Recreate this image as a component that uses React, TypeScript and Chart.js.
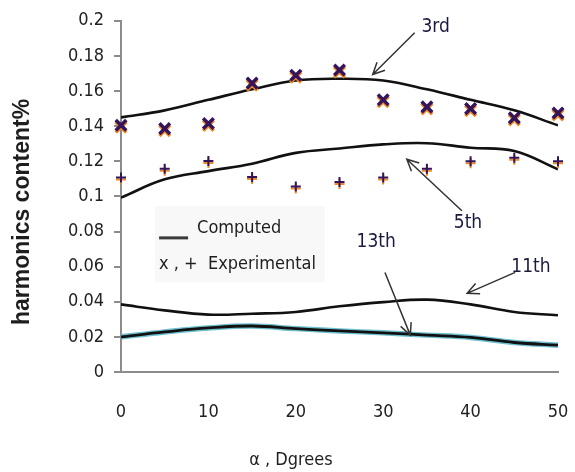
import React, { useEffect, useRef } from 'react';
import { Chart, registerables } from 'chart.js';

Chart.register(...registerables);

const angles = [0, 5, 10, 15, 20, 25, 30, 35, 40, 45, 50];
const computed3rd = [0.145, 0.149, 0.155, 0.161, 0.166, 0.167, 0.166, 0.161, 0.155, 0.149, 0.1405];
const experimental3rd = [0.1405, 0.1386, 0.1415, 0.1645, 0.169, 0.172, 0.155, 0.151, 0.15, 0.1447, 0.1475];
const computed5th = [0.0993, 0.1097, 0.1144, 0.1186, 0.1248, 0.1273, 0.1296, 0.1303, 0.1277, 0.1258, 0.1154];
const experimental5th = [0.1107, 0.1158, 0.1201, 0.111, 0.1056, 0.1082, 0.1107, 0.1158, 0.12, 0.122, 0.12];
const computed11th = [0.0385, 0.0351, 0.0327, 0.0332, 0.0342, 0.0374, 0.0398, 0.0412, 0.0385, 0.0342, 0.0323];
const computed13th = [0.02, 0.0228, 0.0251, 0.0262, 0.0247, 0.0234, 0.0223, 0.021, 0.0197, 0.0168, 0.0153];

const xTickLabels = ['0', '10', '20', '30', '40', '50'];
const yTickLabels = ['0', '0.02', '0.04', '0.06', '0.08', '0.1', '0.12', '0.14', '0.16', '0.18', '0.2'];

const xTitle = 'α , Dgrees';
const yTitle = 'harmonics content%';
const legendLines = ['Computed', 'x , +  Experimental'];

// annotations in data units: label, text position, arrow start, arrow end
const annotations = [
  { text: '3rd', tx: 36.0, ty: 0.1966, x1: 33.6, y1: 0.1932, x2: 28.8, y2: 0.1694 },
  { text: '5th', tx: 39.7, ty: 0.085, x1: 39.0, y1: 0.0918, x2: 32.7, y2: 0.1212 },
  { text: '13th', tx: 29.2, ty: 0.0742, x1: 30.2, y1: 0.0567, x2: 33.1, y2: 0.021 },
  { text: '11th', tx: 46.9, ty: 0.06, x1: 45.1, y1: 0.0567, x2: 39.6, y2: 0.0448 },
];

const FONT = "'DejaVu Sans Condensed', 'DejaVu Sans', sans-serif";
const AXIS_GRAY = '#8c8c8c';
const PURPLE = '#34145a';
const ORANGE = '#f08a24';

const toXY = (xs: number[], ys: number[]) => xs.map((x, i) => ({ x, y: ys[i] }));

const decorPlugin = {
  id: 'decor',
  beforeDatasetDraw(chart: any, args: any) {
    const ds = chart.data.datasets[args.index];
    if (!ds.shadow) return;
    const ctx = chart.ctx;
    ctx.save();
    ctx.strokeStyle = ORANGE;
    ctx.lineWidth = ds.borderWidth;
    ctx.lineCap = 'butt';
    const off = 2;
    args.meta.data.forEach((pt: any) => {
      const { x, y } = pt;
      ctx.beginPath();
      if (ds.pointStyle === 'crossRot') {
        const r = ds.pointRadius * Math.SQRT1_2;
        ctx.moveTo(x - r, y - r + off);
        ctx.lineTo(x + r, y + r + off);
        ctx.moveTo(x + r, y - r + off);
        ctx.lineTo(x - r, y + r + off);
      } else {
        const r = ds.pointRadius;
        ctx.moveTo(x - r, y + off);
        ctx.lineTo(x + r, y + off);
        ctx.moveTo(x, y - r + off);
        ctx.lineTo(x, y + r + off);
      }
      ctx.stroke();
    });
    ctx.restore();
  },
  afterDatasetsDraw(chart: any) {
    const ctx = chart.ctx;
    const xs = chart.scales.x;
    const ys = chart.scales.y;
    ctx.save();

    // legend box
    const lx1 = xs.getPixelForValue(3.9);
    const lx2 = xs.getPixelForValue(23.3);
    const ly1 = ys.getPixelForValue(0.0946);
    const ly2 = ys.getPixelForValue(0.051);
    ctx.fillStyle = '#f8f8f8';
    ctx.fillRect(lx1, ly1, lx2 - lx1, ly2 - ly1);
    ctx.strokeStyle = '#3a3a3a';
    ctx.lineWidth = 3;
    ctx.beginPath();
    ctx.moveTo(lx1 + 4, ly1 + 32);
    ctx.lineTo(lx1 + 33, ly1 + 32);
    ctx.stroke();
    ctx.fillStyle = '#1e1e1e';
    ctx.font = `18px ${FONT}`;
    ctx.textBaseline = 'middle';
    ctx.textAlign = 'left';
    ctx.fillText(legendLines[0], lx1 + 42, ly1 + 22);
    ctx.fillText(legendLines[1], lx1 + 4, ly1 + 58);

    // annotations
    ctx.strokeStyle = '#333333';
    ctx.lineWidth = 1.5;
    annotations.forEach((a) => {
      const x1 = xs.getPixelForValue(a.x1);
      const y1 = ys.getPixelForValue(a.y1);
      const x2 = xs.getPixelForValue(a.x2);
      const y2 = ys.getPixelForValue(a.y2);
      ctx.beginPath();
      ctx.moveTo(x1, y1);
      ctx.lineTo(x2, y2);
      const ang = Math.atan2(y2 - y1, x2 - x1);
      const hl = 13;
      const spread = 0.45;
      ctx.moveTo(x2 - hl * Math.cos(ang - spread), y2 - hl * Math.sin(ang - spread));
      ctx.lineTo(x2, y2);
      ctx.lineTo(x2 - hl * Math.cos(ang + spread), y2 - hl * Math.sin(ang + spread));
      ctx.stroke();
      ctx.fillStyle = '#1a1a40';
      ctx.font = `19px ${FONT}`;
      ctx.textAlign = 'center';
      ctx.textBaseline = 'middle';
      ctx.fillText(a.text, xs.getPixelForValue(a.tx), ys.getPixelForValue(a.ty));
    });

    // axis titles
    ctx.fillStyle = '#1e1e1e';
    ctx.font = `18px ${FONT}`;
    ctx.textAlign = 'center';
    ctx.textBaseline = 'middle';
    ctx.fillText(xTitle, 291, 460);
    ctx.save();
    ctx.translate(23, 212);
    ctx.rotate(-Math.PI / 2);
    ctx.font = `bold 23px 'Liberation Sans', Arial, sans-serif`;
    ctx.fillText(yTitle, 0, 0);
    ctx.restore();

    ctx.restore();
  },
};

export default function App() {
  const canvasRef = useRef<HTMLCanvasElement | null>(null);

  useEffect(() => {
    if (!canvasRef.current) return;
    const lineBase = {
      type: 'line' as const,
      pointRadius: 0,
      borderWidth: 2.6,
      borderColor: '#111111',
      tension: 0.4,
      fill: false,
      order: 3,
    };
    const chart = new Chart(canvasRef.current, {
      type: 'line',
      data: {
        datasets: [
          { ...lineBase, label: '3rd computed', data: toXY(angles, computed3rd) },
          { ...lineBase, label: '5th computed', data: toXY(angles, computed5th) },
          { ...lineBase, label: '11th computed', data: toXY(angles, computed11th) },
          { ...lineBase, label: '13th glow', data: toXY(angles, computed13th), borderColor: '#6fc0cf', borderWidth: 5.5, order: 4 },
          { ...lineBase, label: '13th computed', data: toXY(angles, computed13th), borderWidth: 2.8 },
          {
            type: 'line',
            label: '3rd experimental',
            data: toXY(angles, experimental3rd),
            showLine: false,
            pointStyle: 'crossRot',
            pointRadius: 7.5,
            borderWidth: 3.5,
            borderColor: PURPLE,
            backgroundColor: PURPLE,
            shadow: true,
            clip: false,
            order: 1,
          } as any,
          {
            type: 'line',
            label: '5th experimental',
            data: toXY(angles, experimental5th),
            showLine: false,
            pointStyle: 'cross',
            pointRadius: 5,
            borderWidth: 2,
            borderColor: PURPLE,
            backgroundColor: PURPLE,
            shadow: true,
            clip: false,
            order: 1,
          } as any,
        ],
      },
      options: {
        responsive: false,
        animation: false,
        layout: { padding: { left: 0, right: 17, top: 19, bottom: 0 } },
        plugins: { legend: { display: false }, tooltip: { enabled: false } },
        scales: {
          x: {
            type: 'linear',
            min: 0,
            max: 50,
            ticks: {
              stepSize: 10,
              callback: (_v: any, i: number) => xTickLabels[i],
              font: { family: FONT, size: 18 },
              color: '#222222',
              padding: 3,
              maxRotation: 0,
            },
            grid: { display: true, drawOnChartArea: false, drawTicks: true, tickLength: 27, color: 'rgba(0,0,0,0)' },
            border: { display: true, color: AXIS_GRAY, width: 2 },
            afterFit: (s: any) => { s.height = 100; },
          },
          y: {
            type: 'linear',
            min: 0,
            max: 0.2,
            ticks: {
              stepSize: 0.02,
              callback: (_v: any, i: number) => yTickLabels[i],
              font: { family: FONT, size: 18 },
              color: '#222222',
              padding: 10,
            },
            grid: { display: true, drawOnChartArea: false, drawTicks: true, tickLength: 7, color: AXIS_GRAY, lineWidth: 2 },
            border: { display: true, color: AXIS_GRAY, width: 2 },
            afterFit: (s: any) => { s.width = 121; },
          },
        },
      },
      plugins: [decorPlugin],
    } as any);
    return () => chart.destroy();
  }, []);

  return (
    <div style={{ position: 'fixed', left: 0, top: 0, width: 575, height: 472, background: '#ffffff' }}>
      <canvas ref={canvasRef} width={575} height={472} />
    </div>
  );
}
